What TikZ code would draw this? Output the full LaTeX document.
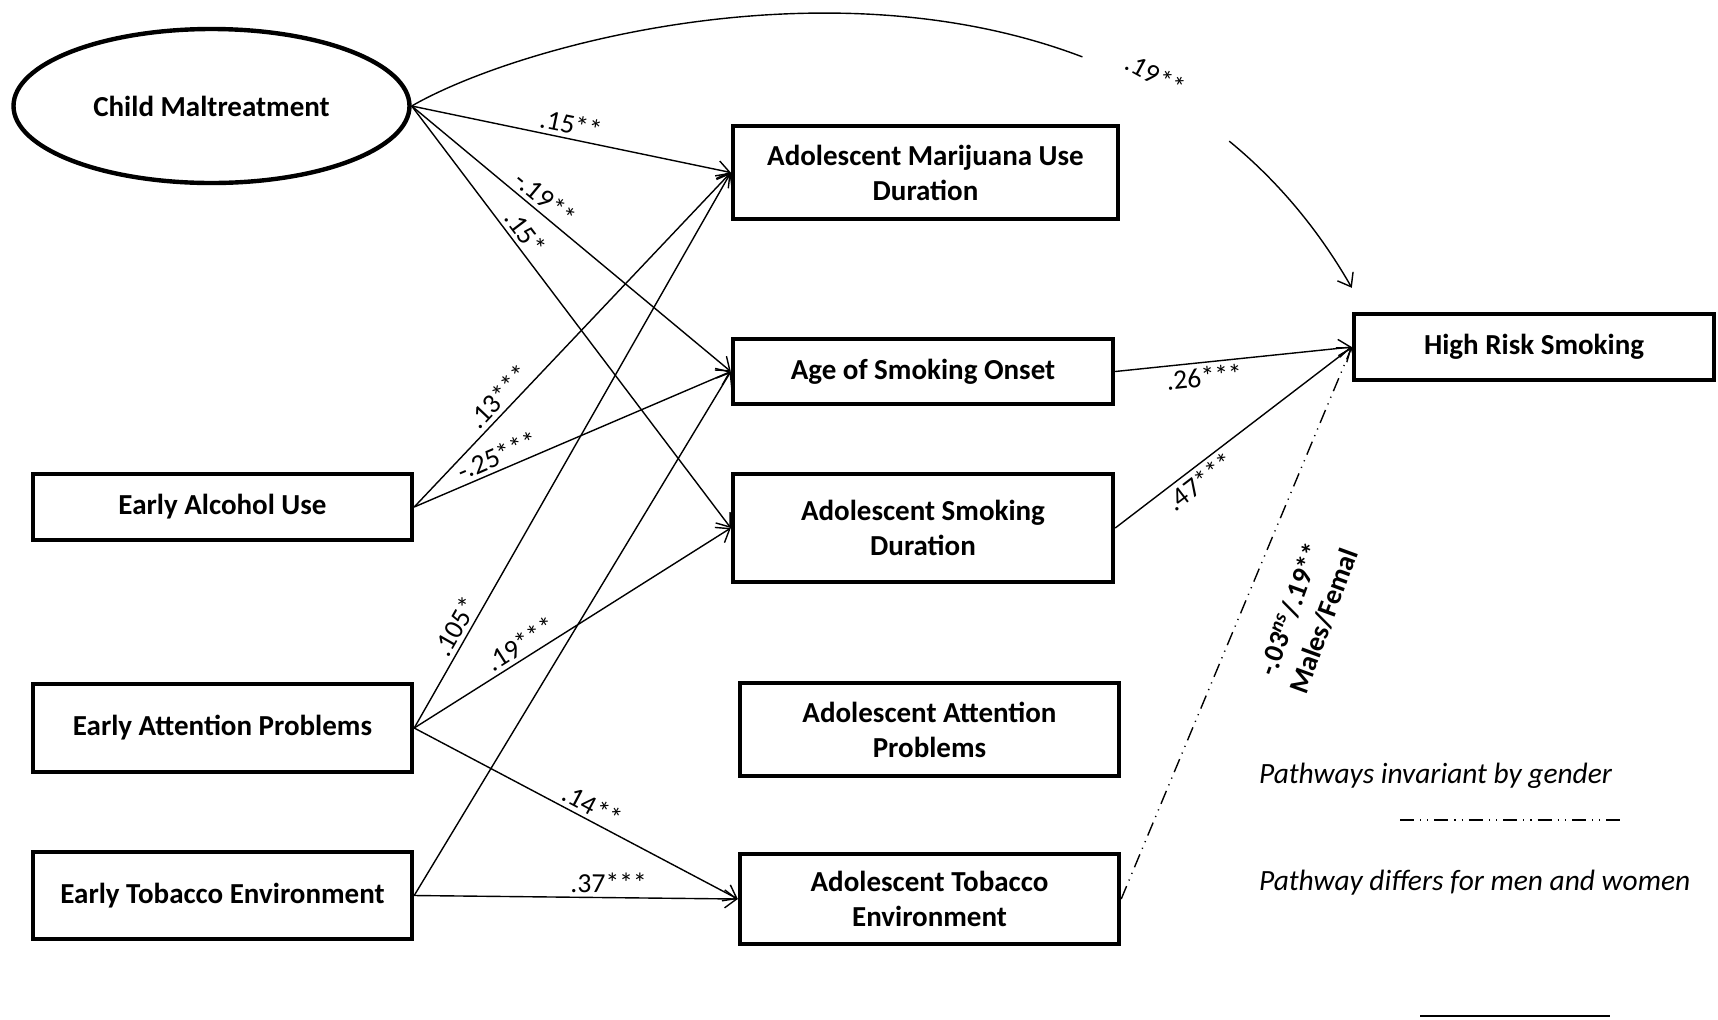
\documentclass[tikz,border=0pt]{standalone}
\usepackage{fontspec}
\setmainfont{Carlito}
\usetikzlibrary{shapes.geometric,arrows.meta}

\tikzset{
  var/.style={draw, line width=2.2pt, align=center, inner sep=0pt,
    font=\bfseries\fontsize{14.5}{17.5}\selectfont},
  effect/.style={line width=0.7pt, -{Straight Barb[length=6pt,width=9pt]}},
  coef/.style={font=\fontsize{13.8}{16}\selectfont, sloped, inner sep=2pt},
  gender/.style={dash pattern=on 7pt off 3pt on 0.6pt off 3pt on 0.6pt off 3pt},
  legend/.style={anchor=west, font=\itshape\fontsize{14.7}{17}\selectfont},
}

\begin{document}
\begin{tikzpicture}[x=0.5pt,y=-0.5pt]
\useasboundingbox (0,0) rectangle (1718,1019);

% childhood / early predictors
\node[var, ellipse, minimum width=198pt, minimum height=77pt] (cm) at (211.5,106) {Child Maltreatment};
\node[var, minimum width=189.5pt, minimum height=33pt] (ea) at (222.5,507) {Early Alcohol Use};
\node[var, minimum width=189.5pt, minimum height=44pt] (eap) at (222.5,728) {Early Attention Problems};
\node[var, minimum width=189.5pt, minimum height=43.5pt] (et) at (222.5,895.5) {Early Tobacco Environment};

% adolescent mediators
\node[var, minimum width=192.5pt, minimum height=46.5pt] (mj) at (925.5,172.5) {Adolescent Marijuana Use\\Duration};
\node[var, minimum width=190pt, minimum height=32.5pt] (ao) at (923,371.5) {Age of Smoking Onset};
\node[var, minimum width=190pt, minimum height=54pt] (sd) at (923,528) {Adolescent Smoking\\Duration};
\node[var, minimum width=189.5pt, minimum height=46.5pt] (ap) at (929.5,729.5) {Adolescent Attention\\Problems};
\node[var, minimum width=189.5pt, minimum height=45pt] (te) at (929.5,899) {Adolescent Tobacco\\Environment};

% outcome
\node[var, minimum width=180pt, minimum height=33pt] (hrs) at (1534,347) {High Risk Smoking};
\coordinate (hrsin) at ([yshift=12pt]hrs.north west);

% paths
\draw[effect] (cm.east) -- (mj.west) node[coef, pos=0.49, above] {.15**};
\draw[effect] (cm.east) -- (ao.west) node[coef, pos=0.39, above] {-.19**};
\draw[effect] (cm.east) -- (sd.west) node[coef, pos=0.32, above] {.15*};
\draw[effect, dash pattern=on 345pt off 85pt on 400pt] (cm.east) .. controls (558,21.5) and (1120,-116.5) .. (hrsin)
  node[coef, pos=0.77, above] {.19**};
\draw[effect] (ea.east) -- (mj.west) node[coef, pos=0.30, above] {.13***};
\draw[effect] (ea.east) -- (ao.west) node[coef, pos=0.28, above] {-.25***};
\draw[effect] (eap.east) -- (mj.west) node[coef, pos=0.17, above] {.105*};
\draw[effect] (eap.east) -- (sd.west) node[coef, pos=0.36, above] {.19***};
\draw[effect] (eap.east) -- (te.west) node[coef, pos=0.53, above] {.14**};
\draw[effect] (et.east) -- (ao.west);
\draw[effect] (et.east) -- (te.west) node[coef, pos=0.60, above] {.37***};
\draw[effect] (ao.east) -- (hrs.west) node[coef, pos=0.37, below] {.26***};
\draw[effect] (sd.east) -- (hrs.west) node[coef, pos=0.32, below] {.47***};
\draw[effect, gender] (te.east) -- (hrs.west);
\node[rotate=70, align=center, font=\bfseries\fontsize{14}{17.5}\selectfont] (gl) at (1307,615)
  {-.03\textsuperscript{\textit{ns}}/.19**\\Males/Femal};

% legend
\node[legend] (inv) at (1252,776) {Pathways invariant by gender};
\draw[line width=0.7pt, gender] (1400,820) -- (1621,820);
\node[legend] (dif) at (1252,883) {Pathway differs for men and women};
\draw[line width=0.7pt] (1420,1016) -- (1610,1016);
\end{tikzpicture}
\end{document}
